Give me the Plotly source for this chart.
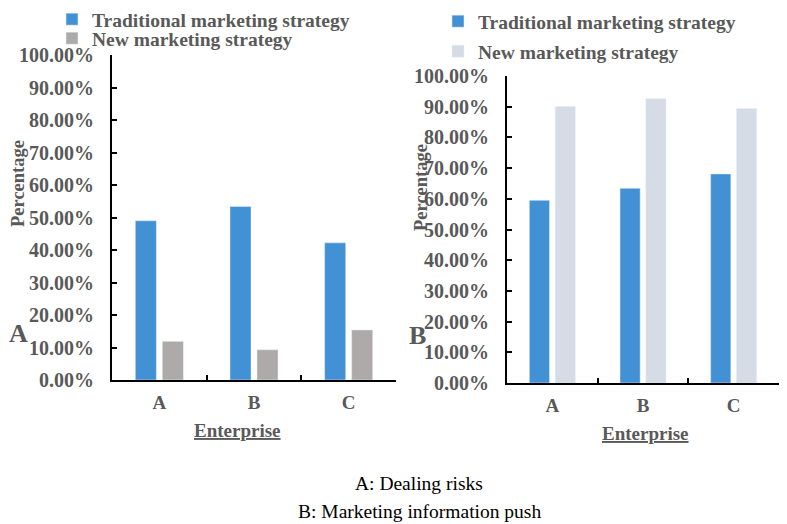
import plotly.graph_objects as go

W, H = 787, 524

enterprises = ["A", "B", "C"]
risk_traditional = [0.490, 0.534, 0.422]
risk_new = [0.119, 0.093, 0.154]
push_traditional = [0.595, 0.634, 0.681]
push_new = [0.901, 0.926, 0.894]
y_ticks = [i / 10 for i in range(11)]

BLUE = "#4391D5"
GRAY = "#AEAAAA"
LIGHT = "#D6DCE5"
TXT = "#595959"
SERIF = "Liberation Serif"


def px(x):
    return x / W


def py(y):
    return 1 - y / H


fig = go.Figure()
fig.add_trace(go.Bar(x=enterprises, y=risk_traditional, name="Traditional marketing strategy",
                     marker_color=BLUE, xaxis="x", yaxis="y", legend="legend"))
fig.add_trace(go.Bar(x=enterprises, y=risk_new, name="New marketing strategy",
                     marker_color=GRAY, xaxis="x", yaxis="y", legend="legend3"))
fig.add_trace(go.Bar(x=enterprises, y=push_traditional, name="Traditional marketing strategy",
                     marker_color=BLUE, xaxis="x2", yaxis="y2", legend="legend2"))
fig.add_trace(go.Bar(x=enterprises, y=push_new, name="New marketing strategy",
                     marker_color=LIGHT, xaxis="x2", yaxis="y2", legend="legend4"))

tick_font = dict(family=SERIF, size=20, color=TXT, weight="bold")

xcommon = dict(type="category", showline=True, linecolor="black", linewidth=2,
               ticks="inside", tickson="boundaries", ticklen=5, tickcolor="black",
               tickwidth=1.5, tickfont=dict(family=SERIF, size=19, color=TXT, weight="bold"),
               ticklabelstandoff=4, showgrid=False, zeroline=False, fixedrange=True,
               automargin=False)
ycommon = dict(range=[0, 1], tickvals=y_ticks, tickformat=".2%", showline=True,
               linecolor="black", linewidth=2, ticks="inside", ticklen=5,
               tickcolor="black", tickwidth=1.5, tickfont=tick_font,
               ticklabelstandoff=12, showgrid=False, zeroline=False, fixedrange=True,
               automargin=False)

legend_font = dict(family=SERIF, size=19.5, color=TXT, weight="bold")


def legend_at(x, top):
    # single-entry legend, top edge given in pixels
    return dict(x=px(x), y=py(top), xanchor="left", yanchor="top", font=legend_font,
                bgcolor="rgba(0,0,0,0)", itemwidth=30)


fig.update_layout(
    width=W, height=H,
    margin=dict(l=0, r=0, t=0, b=0),
    paper_bgcolor="white", plot_bgcolor="white",
    barmode="group", bargap=0.43, bargroupgap=0.22,
    xaxis=dict(domain=[px(112), px(396)], anchor="y", **xcommon),
    yaxis=dict(domain=[py(380), py(55)], anchor="x", **ycommon),
    xaxis2=dict(domain=[px(507), px(779)], anchor="y2", **xcommon),
    yaxis2=dict(domain=[py(383), py(76)], anchor="x2", **ycommon),
    legend=legend_at(52, 0),
    legend3=legend_at(52, 19),
    legend2=legend_at(438, 2),
    legend4=legend_at(438, 32),
    showlegend=True,
)

label_font = dict(family=SERIF, size=18.5, color=TXT, weight="bold")
notes = [
    dict(text="Percentage", x=px(18), y=py(184), textangle=-90, font=label_font),
    dict(text="Percentage", x=px(421), y=py(187), textangle=-90, font=label_font),
    dict(text="<u>Enterprise</u>", x=px(237), y=py(430), font=dict(label_font, size=19)),
    dict(text="<u>Enterprise</u>", x=px(645), y=py(433), font=dict(label_font, size=19)),
    dict(text="A", x=px(18), y=py(333), font=dict(family=SERIF, size=26, color=TXT, weight="bold")),
    dict(text="B", x=px(418), y=py(335), font=dict(family=SERIF, size=26, color=TXT, weight="bold")),
    dict(text="A: Dealing risks", x=px(419), y=py(483), font=dict(family=SERIF, size=19.5, color="black")),
    dict(text="B: Marketing information push", x=px(419), y=py(511), font=dict(family=SERIF, size=19.5, color="black")),
]
for n in notes:
    fig.add_annotation(xref="paper", yref="paper", showarrow=False,
                       xanchor="center", yanchor="middle", **n)

# drop the default page margin so the figure sits at the window's corner
fig.write_html("out.html", config={"displayModeBar": False},
               post_script="document.body.style.margin='0';")
